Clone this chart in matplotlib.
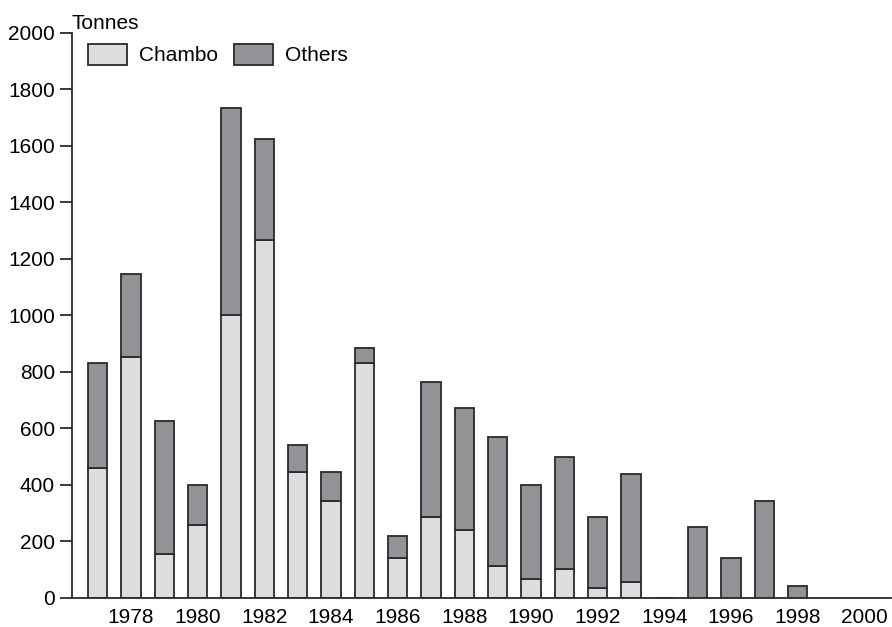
import matplotlib
matplotlib.use("Agg")
from matplotlib import pyplot as plt

# Data (tonnes)
years = [1977, 1978, 1979, 1980, 1981, 1982, 1983, 1984, 1985, 1986, 1987,
         1988, 1989, 1990, 1991, 1992, 1993, 1994, 1995, 1996, 1997, 1998]
totals = [833, 1148, 627, 401, 1733, 1624, 541, 447, 885, 221, 763,
          673, 570, 400, 499, 287, 438, 0, 250, 142, 344, 43]
chambo = [460, 852, 156, 259, 1003, 1266, 446, 344, 832, 142, 286,
          239, 114, 66, 104, 37, 57, 0, 0, 0, 0, 0]
others = [t - c for t, c in zip(totals, chambo)]

xticks = list(range(1978, 2001, 2))
yticks = list(range(0, 2001, 200))

plt.rcParams['font.family'] = ['Liberation Sans', 'DejaVu Sans']

fig = plt.figure(figsize=(8.92, 6.27), dpi=100)
ax = fig.add_axes([0.0804, 0.0463, 0.919, 0.9011])

light = '#dcdddf'
dark = '#929396'
edge = '#2a2a2a'

ax.bar(years, chambo, width=0.58, color=light, edgecolor=edge, linewidth=1.3,
       label='Chambo')
ax.bar(years, others, width=0.58, bottom=chambo, color=dark, edgecolor=edge,
       linewidth=1.3, label='Others')

ax.set_xlim(1976.22, 2000.81)
ax.set_ylim(0, 2000)
ax.set_xticks(xticks)
ax.set_yticks(yticks)
ax.tick_params(axis='x', length=0, pad=7, labelsize=15)
ax.tick_params(axis='y', length=9, width=1.3, color=edge, pad=3, labelsize=15)

for s in ['top', 'right']:
    ax.spines[s].set_visible(False)
for s in ['left', 'bottom']:
    ax.spines[s].set_linewidth(1.3)
    ax.spines[s].set_color(edge)

ax.text(0.0, 1.0, 'Tonnes', transform=ax.transAxes, fontsize=15,
        ha='left', va='bottom')

ax.legend(loc='upper left', bbox_to_anchor=(0.005, 1.003), ncol=2, frameon=False,
          fontsize=15, handlelength=1.87, handleheight=1.2, handletextpad=0.55,
          columnspacing=0.8, borderaxespad=0.2)

fig.savefig('out.png', dpi=100)
